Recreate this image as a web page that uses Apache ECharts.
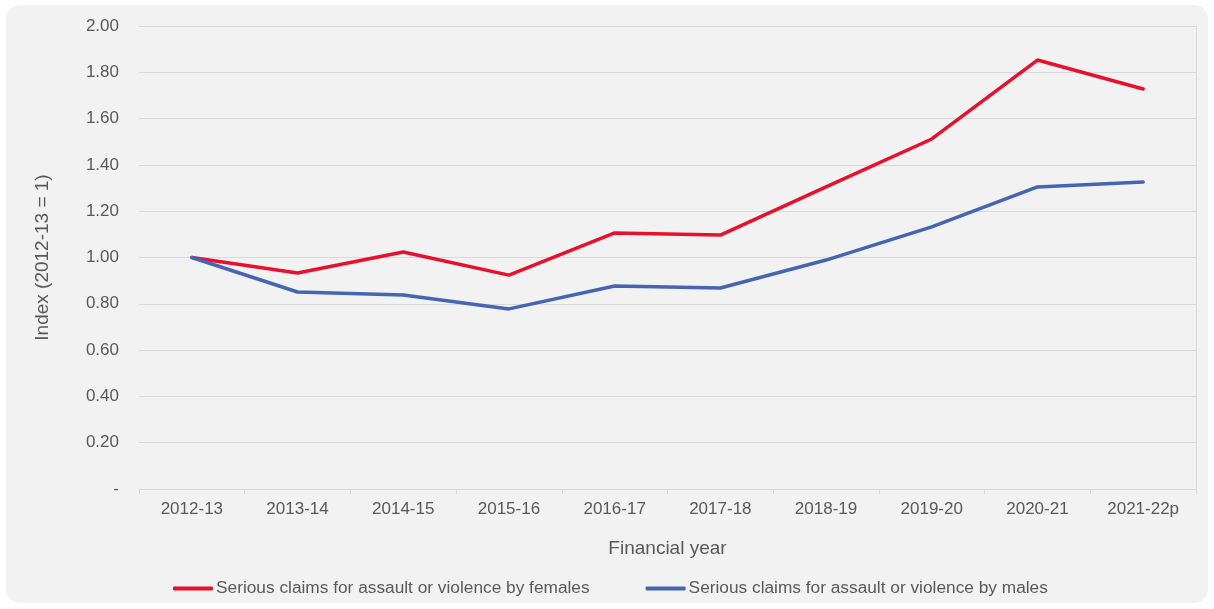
<!DOCTYPE html>
<html>
<head>
<meta charset="utf-8">
<script src="https://cdn.jsdelivr.net/npm/echarts@6/dist/echarts.min.js"></script>
<style>
html,body{margin:0;padding:0;background:#ffffff;}
#c{width:1214px;height:609px;}
</style>
</head>
<body>
<div id="c"></div>
<script>
var categories = ['2012-13','2013-14','2014-15','2015-16','2016-17','2017-18','2018-19','2019-20','2020-21','2021-22p'];
var femalesName = 'Serious claims for assault or violence by females';
var malesName = 'Serious claims for assault or violence by males';
var females = [1.00, 0.933, 1.024, 0.924, 1.106, 1.097, 1.305, 1.512, 1.853, 1.728];
var males = [1.00, 0.851, 0.838, 0.778, 0.877, 0.868, 0.989, 1.132, 1.305, 1.326];
var yTicks = [0, 0.2, 0.4, 0.6, 0.8, 1.0, 1.2, 1.4, 1.6, 1.8, 2.0];

var font = 'Liberation Sans, Arial, sans-serif';
var txt = '#595959';
var grid = '#d9d9d9';

var chart = echarts.init(document.getElementById('c'), null, {renderer:'canvas'});
chart.setOption({
  animation: false,
  textStyle: {fontFamily: font},
  graphic: [{
    type: 'rect', z: -10, silent: true,
    shape: {x: 6, y: 5, width: 1202, height: 598, r: 14},
    style: {fill: '#f2f2f2'}
  }],
  grid: {left: 139, right: 18, top: 26, bottom: 120},
  legend: {
    left: 168, top: 575,
    itemWidth: 40, itemHeight: 4, itemGap: 56,
    icon: 'roundRect',
    textStyle: {color: txt, fontSize: 17.3, fontFamily: font, padding: [0,0,0,-2]},
    data: [femalesName, malesName]
  },
  xAxis: {
    type: 'category',
    data: categories,
    boundaryGap: true,
    name: 'Financial year',
    nameLocation: 'middle',
    nameGap: 50,
    nameTextStyle: {color: txt, fontSize: 19, fontFamily: font},
    axisLine: {lineStyle: {color: grid, width: 1}},
    axisTick: {show: true, length: 5, lineStyle: {color: grid}},
    axisLabel: {color: txt, fontSize: 17, fontFamily: font, margin: 12},
    splitLine: {show: false}
  },
  yAxis: [{
    type: 'value',
    min: 0, max: 2, interval: 0.2,
    name: 'Index (2012-13 = 1)',
    nameLocation: 'middle',
    nameGap: 87,
    nameTextStyle: {color: txt, fontSize: 19, fontFamily: font},
    axisLine: {show: false},
    axisTick: {show: false},
    axisLabel: {
      color: txt, fontSize: 17, fontFamily: font, margin: 20,
      formatter: function(v){ return Math.abs(v) < 1e-9 ? '-' : v.toFixed(2); }
    },
    splitLine: {lineStyle: {color: grid, width: 1}}
  }, {
    type: 'value', position: 'right',
    min: 0, max: 2, interval: 0.2,
    axisLine: {show: true, lineStyle: {color: grid, width: 1}},
    axisTick: {show: false},
    axisLabel: {show: false},
    splitLine: {show: false}
  }],
  series: [{
    name: femalesName, type: 'line', data: females,
    showSymbol: false, symbol: 'none',
    lineStyle: {color: '#E8112D', width: 3.5, cap: 'round'},
    itemStyle: {color: '#E8112D'}
  }, {
    name: malesName, type: 'line', data: males,
    showSymbol: false, symbol: 'none',
    lineStyle: {color: '#4565B2', width: 3.5, cap: 'round'},
    itemStyle: {color: '#4565B2'}
  }]
});
</script>
</body>
</html>
